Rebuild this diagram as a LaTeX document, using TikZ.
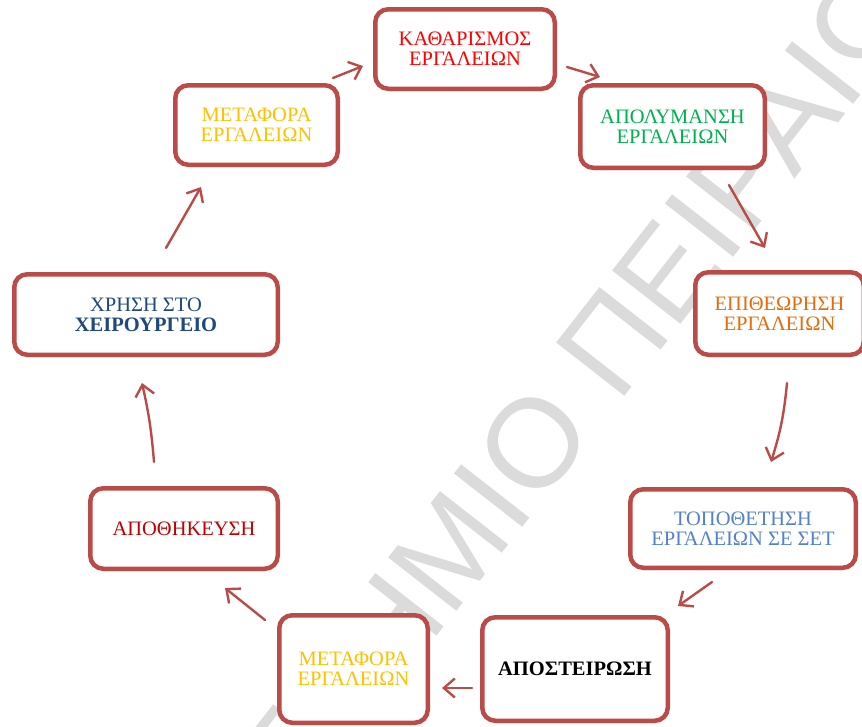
\documentclass[tikz,border=0pt]{standalone}
\usepackage{fontspec}
\setmainfont{Liberation Serif}
\newfontfamily\wmfont{Liberation Sans}
\usetikzlibrary{arrows.meta,shadows}
\definecolor{bordercol}{RGB}{185,76,72}
\definecolor{wmgray}{RGB}{219,219,219}
\definecolor{tred}{RGB}{255,0,0}
\definecolor{tgold}{RGB}{255,192,0}
\definecolor{tgreen}{RGB}{0,176,80}
\definecolor{torange}{RGB}{228,108,10}
\definecolor{tlblue}{RGB}{84,130,200}
\definecolor{tdred}{RGB}{192,0,0}
\definecolor{tdblue}{RGB}{31,73,125}
\begin{document}
\begin{tikzpicture}[x=1pt,y=-1pt,
  stepbox/.style={draw=bordercol, line width=4.5pt, rounded corners=13pt, fill=white,
    inner sep=0pt, align=center, font=\fontsize{20.5}{20}\selectfont,
    drop shadow={shadow xshift=0.5pt,shadow yshift=-2.5pt,fill=red!30,opacity=0.5}},
  flow/.style={draw=bordercol, line width=2.4pt, line cap=round,
    -{Straight Barb[length=11pt,width=19pt,line width=2.4pt]}}]
\useasboundingbox (0,0) rectangle (862,726);
\clip (0,0) rectangle (862,726);
% watermark
\node[rotate=52, anchor=base, text=wmgray, inner sep=0pt,
  font=\wmfont\fontsize{126}{126}\selectfont] (wm) at (490,569) {ΠΑΝΕΠΙΣΤΗΜΙΟ ΠΕΙΡΑΙΩΣ};
% boxes
\node[stepbox, minimum width=179.5pt, minimum height=79.5pt, text=tred] (kath) at (465,49) {ΚΑΘΑΡΙΣΜΟΣ\\ΕΡΓΑΛΕΙΩΝ};
\node[stepbox, minimum width=162.5pt, minimum height=79.5pt, text=tgold] (met1) at (256.5,125) {ΜΕΤΑΦΟΡΑ\\ΕΡΓΑΛΕΙΩΝ};
\node[stepbox, minimum width=184.5pt, minimum height=82.5pt, text=tgreen] (apol) at (672.5,126.5) {ΑΠΟΛΥΜΑΝΣΗ\\ΕΡΓΑΛΕΙΩΝ};
\node[stepbox, minimum width=168.5pt, minimum height=82.5pt, text=torange] (epi) at (779.5,313.5) {ΕΠΙΘΕΩΡΗΣΗ\\ΕΡΓΑΛΕΙΩΝ};
\node[stepbox, minimum width=225.5pt, minimum height=78.5pt, text=tlblue] (topo) at (743,528.5) {ΤΟΠΟΘΕΤΗΣΗ\\ΕΡΓΑΛΕΙΩΝ ΣΕ ΣΕΤ};
\node[stepbox, minimum width=185.5pt, minimum height=103.5pt, text=black, font=\fontsize{20.5}{20}\selectfont\bfseries] (apost) at (575,669) {ΑΠΟΣΤΕΙΡΩΣΗ};
\node[stepbox, minimum width=148.5pt, minimum height=107.5pt, text=tgold] (met2) at (353.5,669) {ΜΕΤΑΦΟΡΑ\\ΕΡΓΑΛΕΙΩΝ};
\node[stepbox, minimum width=187.5pt, minimum height=80.5pt, text=tdred] (apoth) at (184,528.5) {ΑΠΟΘΗΚΕΥΣΗ};
\node[stepbox, minimum width=263.5pt, minimum height=80.5pt, text=tdblue] (xrisi) at (146,314.5) {ΧΡΗΣΗ ΣΤΟ\\\textbf{ΧΕΙΡΟΥΡΓΕΙΟ}};
% arrow end points
\coordinate (a1s) at (333,78);  \coordinate (a1e) at (363,66);
\coordinate (a2s) at (567,67);  \coordinate (a2e) at (600,77);
\coordinate (a3s) at (729,185); \coordinate (a3e) at (765,248);
\coordinate (a4s) at (787,383); \coordinate (a4e) at (771,462);
\coordinate (a5s) at (712,582); \coordinate (a5e) at (678,606);
\coordinate (a6s) at (472,688); \coordinate (a6e) at (442,688);
\coordinate (a7s) at (265,620); \coordinate (a7e) at (225,588);
\coordinate (a8s) at (154,462); \coordinate (a8e) at (142,383);
\coordinate (a9s) at (166,248); \coordinate (a9e) at (201,187);
% arrows
\draw[flow] (a1s) -- (a1e);
\draw[flow] (a2s) -- (a2e);
\draw[flow] (a3s) -- (a3e);
\draw[flow] (a4s) to[bend left=6] (a4e);
\draw[flow] (a5s) -- (a5e);
\draw[flow] (a6s) -- (a6e);
\draw[flow] (a7s) -- (a7e);
\draw[flow] (a8s) to[bend right=4] (a8e);
\draw[flow] (a9s) -- (a9e);
\end{tikzpicture}
\end{document}
